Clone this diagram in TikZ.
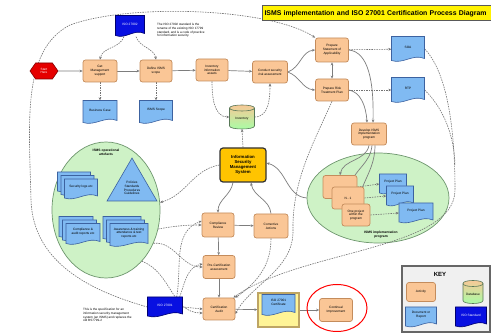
\documentclass[tikz,border=0pt]{standalone}
\usepackage{fontspec}
\setmainfont{Liberation Sans}
\usetikzlibrary{shapes.geometric,shapes.symbols,arrows.meta,calc}
\pgfdeclarelayer{bg}\pgfdeclarelayer{edges}\pgfsetlayers{bg,edges,main}
\definecolor{actfill}{RGB}{250,198,150}
\definecolor{actdraw}{RGB}{196,140,92}
\definecolor{docfill}{RGB}{128,186,242}
\definecolor{docdraw}{RGB}{60,98,160}
\definecolor{isofill}{RGB}{8,16,225}
\definecolor{isodraw}{RGB}{0,0,110}
\definecolor{ellfill}{RGB}{206,242,198}
\definecolor{elldraw}{RGB}{110,150,110}
\definecolor{ismsfill}{RGB}{255,196,0}
\definecolor{linec}{RGB}{125,125,125}
\definecolor{certfill}{RGB}{255,244,150}
\definecolor{certdraw}{RGB}{190,165,100}
\tikzset{
 act/.style={rectangle, rounded corners=2.5pt, draw=actdraw, fill=actfill, line width=0.7pt,
   align=center, font=\fontsize{3.2}{3.8}\selectfont, inner sep=0.5pt},
 docst/.style={draw=docdraw, fill=docfill, line width=0.6pt},
 isost/.style={draw=isodraw, fill=isofill, line width=0.6pt},
 lbl/.style={font=\fontsize{3.2}{3.8}\selectfont, align=center, inner sep=0},
 lblw/.style={lbl, text=white},
 note/.style={font=\fontsize{3.1}{3.8}\selectfont, align=left, inner sep=0},
 conn/.style={draw=linec, line width=0.7pt, -{Stealth[length=3pt,width=2.6pt]}},
 dconn/.style={draw=black!55, line width=0.6pt, dash pattern=on 1.5pt off 1pt,
   -{Stealth[length=3pt,width=2.6pt]}},
 dbst/.style={draw=elldraw!80!black, line width=0.6pt, top color=actfill, bottom color=green!35},
 box/.style={inner sep=0, draw=none}
}
% document shape: cx cy w h style
\newcommand{\docshape}[5]{%
 \path[#5] ({#1-#3/2},{#2-#4/2}) -- ({#1+#3/2},{#2-#4/2}) -- ({#1+#3/2},{#2+#4/2-3})
  .. controls ({#1+0.15*#3},{#2+#4/2-8}) and ({#1-0.15*#3},{#2+#4/2+3}) .. ({#1-#3/2},{#2+#4/2-1}) -- cycle;}
% named document: name cx cy w h style text textstyle
\newcommand{\docnode}[8]{%
 \docshape{#2}{#3}{#4}{#5}{#6}
 \node[box, minimum width=#4pt, minimum height=#5pt] (#1) at (#2,#3) {};
 \node[#8] at (#2,{#3-2}) {#7};}
% cylinder: name cx cy w h text
\newcommand{\dbnode}[6]{%
 \path[dbst] ({#2-#4/2},{#3-#5/2+3}) -- ({#2-#4/2},{#3+#5/2-3})
   .. controls ({#2-#4/2},{#3+#5/2+1}) and ({#2+#4/2},{#3+#5/2+1}) .. ({#2+#4/2},{#3+#5/2-3})
   -- ({#2+#4/2},{#3-#5/2+3})
   .. controls ({#2+#4/2},{#3-#5/2-1}) and ({#2-#4/2},{#3-#5/2-1}) .. ({#2-#4/2},{#3-#5/2+3}) -- cycle;
 \draw[draw=elldraw!80!black, line width=0.6pt] ({#2-#4/2},{#3-#5/2+3})
   .. controls ({#2-#4/2},{#3-#5/2+7}) and ({#2+#4/2},{#3-#5/2+7}) .. ({#2+#4/2},{#3-#5/2+3});
 \node[box, minimum width=#4pt, minimum height=#5pt] (#1) at (#2,#3) {};
 \node[lbl] at (#2,{#3+2}) {#6};}

\begin{document}
\begin{tikzpicture}[x=1pt,y=-1pt]
\useasboundingbox (0,0) rectangle (491,334);
\begin{pgfonlayer}{bg}
 \fill[white] (0,0) rectangle (491,334);
 \node[ellipse, draw=elldraw, fill=ellfill, line width=0.7pt, minimum width=108pt, minimum height=136pt, inner sep=0] (ops) at (106,210) {};
 \node[ellipse, draw=elldraw, fill=ellfill, line width=0.7pt, minimum width=142pt, minimum height=90pt, inner sep=0] (impl) at (378,198) {};
\end{pgfonlayer}

% title
\begin{scope}
 \clip (0,0) rectangle (491,334);
 \node[draw=black!65, fill=yellow, line width=1pt, anchor=west, text width=250pt, align=left,
   minimum height=15pt, inner sep=2pt, font=\bfseries\fontsize{6.9}{7.5}\selectfont] (title) at (262,13.5)
   {ISMS implementation and ISO 27001 Certification Process Diagram};
\end{scope}

% start
\node[signal, signal to=east and west, signal pointer angle=110, fill=red!90!black, draw=red!50!black,
  line width=0.6pt, minimum width=28pt, minimum height=16pt, inner sep=0, text=white, align=center,
  font=\fontsize{3.1}{3.7}\selectfont] (start) at (44,71) {Start\\Here};

% activities
\node[act, minimum width=34pt, minimum height=22pt] (mgmt) at (100,71) {Get\\Management\\support};
\node[act, minimum width=32pt, minimum height=22pt] (scope) at (156,71) {Define ISMS\\scope};
\node[act, minimum width=32pt, minimum height=22pt] (inv) at (212,70) {Inventory\\information\\assets};
\node[act, minimum width=35pt, minimum height=22pt] (risk) at (270,72) {Conduct security\\risk assessment};
\node[act, minimum width=33pt, minimum height=24pt] (soa) at (332,50) {Prepare\\Statement of\\Applicability};
\node[act, minimum width=33pt, minimum height=22pt] (rtp) at (332,90) {Prepare Risk\\Treatment Plan};
\node[act, minimum width=35pt, minimum height=22pt] (dev) at (369,134) {Develop ISMS\\implementation\\program};
\node[act, minimum width=32pt, minimum height=24pt] (comp) at (218,225) {Compliance\\Review};
\node[act, minimum width=34pt, minimum height=24pt] (corr) at (271,226) {Corrective\\Actions};
\node[act, minimum width=32pt, minimum height=23pt] (precert) at (219,267) {Pre-Certification\\assessment};
\node[act, minimum width=32pt, minimum height=22pt] (audit) at (219,309) {Certification\\Audit};
\node[act, minimum width=33pt, minimum height=23pt] (cont) at (336,310) {Continual\\Improvement};

% ISMS core
\node[rectangle, rounded corners=3pt, draw=black!80, fill=ismsfill, line width=1.2pt,
  minimum width=46pt, minimum height=34pt, align=center, inner sep=0.5pt,
  font=\bfseries\fontsize{4.3}{5}\selectfont] (isms) at (243,165) {Information\\Security\\Management\\System};

% documents
\docnode{iso2}{130}{26}{29}{21}{isost}{ISO 27002}{lblw}
\docnode{bcase}{100}{112}{34}{23}{docst}{Business Case}{lbl}
\docnode{iscope}{156}{112}{33}{23}{docst}{ISMS Scope}{lbl}
\docnode{soad}{408}{49}{33}{25}{docst}{SOA}{lbl}
\docnode{rtpd}{408}{90}{33}{25}{docst}{RTP}{lbl}
\docnode{iso1}{165}{307}{35}{20}{isost}{ISO 27001}{lblw}

% inventory database
\dbnode{db}{242}{117}{25}{24}{Inventory}

% notes
\node[note, anchor=north west] (n1) at (157,23) {The ISO 27002 standard is the\\rename of the existing ISO 17799\\standard, and is a code of practice\\for information security.};
\node[note, anchor=north west] (n2) at (83,308) {This is the specification for an\\information security management\\system (an ISMS) and replaces the\\old BS7799-2};

% operational artefacts
\node[lbl, font=\bfseries\fontsize{3.3}{3.9}\selectfont] (opslbl) at (106,152) {ISMS operational\\artefacts};
\docshape{74}{182}{33}{20}{docst}
\docshape{77.5}{185.5}{33}{20}{docst}
\docnode{secl}{81}{189}{33}{20}{docst}{Security logs etc}{lbl}
\path[docst] (107,201) -- (132,158) -- (157,201) -- cycle;
\node[lbl] (pol) at (132,188) {Policies\\Standards\\Procedures\\Guidelines};
\docshape{76}{227}{34}{21}{docst}
\docshape{79.5}{230.5}{34}{21}{docst}
\docnode{compl}{83}{234}{34}{21}{docst}{Compliance \&\\audit reports etc}{lbl}
\docshape{122}{228}{38}{23}{docst}
\docshape{125.5}{231.5}{38}{23}{docst}
\docnode{aware}{129}{235}{38}{23}{docst}{Awareness \& training\\attendance \& test\\reports etc}{lbl}

% implementation program
\node[lbl, font=\bfseries\fontsize{3.3}{3.9}\selectfont] (impllbl) at (381,235) {ISMS implementation\\program};
\node[act, minimum width=34pt, minimum height=23pt] (pb1) at (340,187) {};
\node[act, minimum width=32pt, minimum height=22pt] (pb2) at (348,198) {N - 1};
\node[act, minimum width=28pt, minimum height=22pt] (pb3) at (356,215) {One project\\within the\\program};
\docnode{pp1}{393}{184}{27}{20}{docst}{Project Plan}{lbl}
\docnode{pp2}{400}{196}{27}{20}{docst}{Project Plan}{lbl}
\docnode{pp3}{416}{213}{34}{20}{docst}{Project Plan}{lbl}

% certificate
\node[draw=certdraw, fill=certfill, line width=1.2pt, minimum width=41pt, minimum height=34pt, inner sep=0] (cert) at (278.5,310) {};
\docshape{278.5}{305}{33}{21}{docst}
\node[lbl] (certlbl) at (278.5,302) {ISO 27001\\Certificate};

% continual improvement highlight
\node[ellipse, draw=red, line width=1pt, minimum width=60pt, minimum height=47pt, inner sep=0] (hl) at (337,308) {};

% key
\node[draw=black!60, fill=black!6, line width=1.3pt, minimum width=88pt, minimum height=66pt, inner sep=0] (key) at (446,299) {};
\node[font=\bfseries\fontsize{6}{7}\selectfont, inner sep=0] (keyt) at (440,274) {KEY};
\node[act, minimum width=29pt, minimum height=19pt] (kact) at (421,292) {Activity};
\dbnode{kdb}{473}{292}{20}{23}{Database}
\docnode{kdoc}{421}{317}{31}{20}{docst}{Document or\\Report}{lbl}
\docnode{kiso}{471}{317}{31}{20}{isost}{ISO Standard}{lblw}

% connectors
\begin{pgfonlayer}{edges}
 \draw[conn] (start) -- (mgmt);
 \draw[conn] (mgmt) -- (scope);
 \draw[conn] (scope) -- (inv);
 \draw[conn] (inv) -- (risk);
 \draw[conn] (risk.east) to[out=20,in=185] (soa.west);
 \draw[conn] (risk.east) to[out=-20,in=175] (rtp.west);
 \draw[conn, {Stealth[length=3pt,width=2.6pt]}-{Stealth[length=3pt,width=2.6pt]}] (soa) -- (rtp);
 \draw[dconn] (soa) -- (soad);
 \draw[dconn] (rtp) -- (rtpd);
 \draw[conn] (soa.east) .. controls (368,52) and (374,80) .. ([xshift=4pt]dev.north);
 \draw[conn] (rtp.east) .. controls (360,92) and (366,105) .. ([xshift=-2pt]dev.north);
 \draw[dconn] ([xshift=-6pt]iso2.south) to[out=-110,in=80] (mgmt.north);
 \draw[dconn] ([xshift=6pt]iso2.south) to[out=-70,in=100] (scope.north);
 \draw[dconn] (mgmt) -- (bcase);
 \draw[dconn] (scope) -- (iscope);
 \draw[dconn] (inv.south) to[out=-90,in=180] (db.west);
 \draw[dconn] (db.east) to[out=0,in=-90] (risk.south);
 \draw[dconn] (isms.north) -- (db.south);
 \draw[dconn] (isms.west) to[out=190,in=15] (ops.8);
 \draw[conn] (impl.west) to[out=175,in=-15] ([yshift=2pt]isms.east);
 \draw[conn] (dev.south) to[out=-100,in=80] (pb1.north);
 \draw[conn] ([xshift=3pt]dev.south) to[out=-95,in=75] ([xshift=2pt]pb2.north);
 \draw[conn] ([xshift=6pt]dev.south) to[out=-90,in=80] ([xshift=2pt]pb3.north);
 \draw[dconn] (pb1.east) -- (pp1.west);
 \draw[dconn] (pb2.east) -- (pp2.west);
 \draw[dconn] (pb3.east) -- (pp3.west);
 \draw[conn] ([xshift=-10pt]isms.south) to[out=-100,in=90] (comp.north);
 \draw[conn] (corr.north) to[out=95,in=-80] ([xshift=8pt]isms.south);
 \draw[conn] (comp) -- (corr);
 \draw[conn] (comp) -- (precert);
 \draw[conn] (precert) -- (audit);
 \draw[conn] (audit) -- (cert);
 \draw[conn] (cert) -- (cont);
 \draw[dconn] (ops.-20) to[out=10,in=180] (comp.west);
 \draw[dconn] (ops.-35) to[out=5,in=180] (precert.west);
 \draw[dconn] (ops.-55) to[out=-20,in=180] ([yshift=-4pt]audit.west);
 \draw[dconn] (iso1.east) -- (audit.west);
 \draw[dconn] ([xshift=-3pt]iso1.north east) to[out=70,in=190] ([yshift=3pt]precert.west);
 \draw[dconn] ([xshift=-6pt]iso1.north east) to[out=80,in=200] ([yshift=4pt]comp.west);
 \draw[dconn] (iso1.west) .. controls (95,292) and (33,265) .. (31,200)
   .. controls (29,120) and (22,50) .. (70,25) .. controls (130,3) and (270,8) .. (soa.north west);
 \draw[dconn] (soad.east) .. controls (445,70) and (455,120) .. (455,190)
   .. controls (455,250) and (300,250) .. ([xshift=-2pt]audit.north east);
 \draw[dconn, -] (rtpd.east) .. controls (440,105) and (454,130) .. (455,165);
 \draw[dconn] (rtp.south) .. controls (315,140) and (292,180) .. (293,230)
   .. controls (294,270) and (250,285) .. ([yshift=-5pt]audit.east);
 \draw[dconn] (corr.south) to[out=-90,in=35] (audit.north east);
\end{pgfonlayer}
\end{tikzpicture}
\end{document}
